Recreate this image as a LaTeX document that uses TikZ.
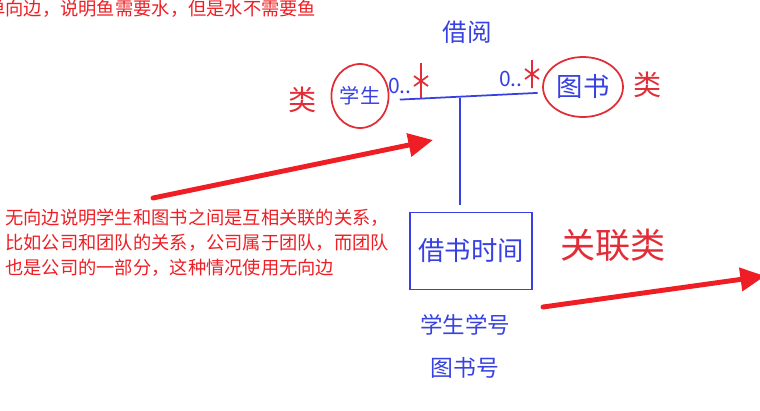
\documentclass[tikz,border=0pt]{standalone}
\usepackage{fontspec}
\newfontfamily\cjk{Noto Sans CJK SC}
\usetikzlibrary{positioning,arrows.meta,shapes.geometric}
\definecolor{penblue}{RGB}{55,65,225}
\definecolor{penred}{RGB}{225,45,55}
\definecolor{notered}{RGB}{238,30,36}
\newcommand{\hand}[1]{\cjk\fontsize{#1}{#1}\selectfont}
\newcommand{\multstar}[2]{\draw[penred,line width=1pt] #1 ++(0,-#2) -- ++(0,2*#2) #1 ++(-7,-5) -- ++(14,10) #1 ++(-7,5) -- ++(14,-10);}

\begin{document}
\begin{tikzpicture}[x=0.02cm,y=-0.02cm,
  handblue/.style={text=penblue,inner sep=0pt},
  handred/.style={text=penred,inner sep=0pt},
  ring/.style={draw=penred,ellipse,line width=1pt,inner sep=0pt,text=penblue},
  link/.style={draw=penblue,line width=1pt},
  bigarrow/.style={draw=notered,line width=2.8pt,line cap=round,-{Triangle[length=14pt,width=13pt]}},
  note/.style={text=notered,inner sep=0pt,font=\cjk\fontsize{10.4}{14.2}\selectfont}]
  \useasboundingbox (0,0) rectangle (760,410);
  % notes
  \node[note,anchor=west] (top) at (-13,9) {单向边，说明鱼需要水，但是水不需要鱼};
  \node[note,anchor=north west,align=left] (txt) at (5,209)
    {无向边说明学生和图书之间是互相关联的关系，\\比如公司和团队的关系，公司属于团队，而团队\\也是公司的一部分，这种情况使用无向边};
  % classes
  \node[ring,minimum width=1.08cm,minimum height=1.28cm,font=\hand{11.5}] (stu) at (360,96) {学生};
  \node[handred,font=\hand{16}] (stucls) at (303,100) {类};
  \node[ring,minimum width=1.6cm,minimum height=1.2cm,font=\hand{15}] (book) at (583,87) {图书};
  \node[handred,font=\hand{16}] (bookcls) at (648,85) {类};
  \node[handblue,font=\hand{14}] (borrow) at (467,32) {借阅};
  % multiplicities
  \node[handblue,font=\hand{12}] (m1) at (400,86) {0..};
  \node[handblue,font=\hand{12}] (m2) at (511,79) {0..};
  \multstar{(421,81)}{18}
  \multstar{(532,74)}{14}
  % association and its class
  \draw[link,shorten <=6pt,shorten >=3pt] (stu.-8) -- (book.188);
  \coordinate (j) at (460,98);
  \node[draw=penblue,line width=1pt,minimum width=2.44cm,minimum height=1.54cm,
    font=\hand{15},text=penblue] (box) at (471,251) {借书时间};
  \draw[link,shorten >=4pt] (j) -- (j |- box.north);
  \node[handblue,font=\hand{12.8}] (sno) at (465,325) {学生学号};
  \node[handblue,font=\hand{13}] (bno) at (465,368) {图书号};
  \node[handred,font=\hand{20}] (assoc) at (613,245) {关联类};
  % arrows
  \coordinate (a1s) at (153,198);
  \coordinate (a1e) at (433,140);
  \draw[bigarrow] (a1s) -- (a1e);
  \coordinate (a2s) at (543,307);
  \coordinate (a2e) at (765,276);
  \draw[bigarrow] (a2s) -- (a2e);
\end{tikzpicture}
\end{document}
